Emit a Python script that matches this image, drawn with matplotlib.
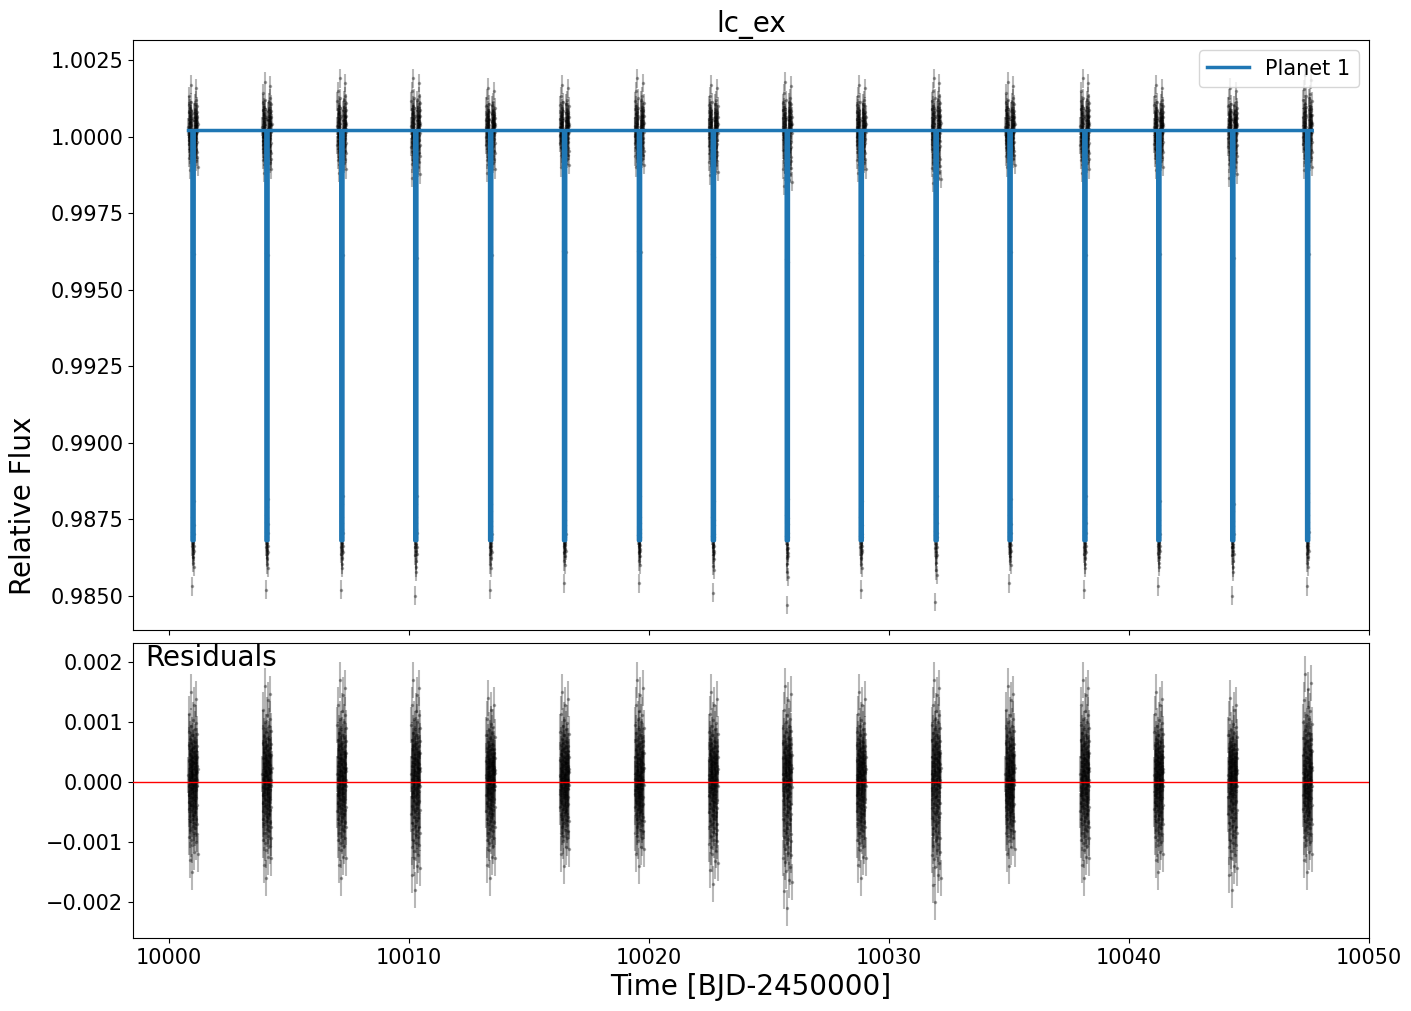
import numpy as np
import matplotlib
matplotlib.use("Agg")
import matplotlib.pyplot as plt

# transit mid-times [BJD-2450000]
transit_times = [10001.00, 10004.08, 10007.20, 10010.28, 10013.40, 10016.48,
                 10019.60, 10022.68, 10025.76, 10028.84, 10031.96, 10035.04,
                 10038.16, 10041.24, 10044.32, 10047.44]

# highest / lowest residual point per transit (approx, from the residual panel)
resid_top = [0.0015, 0.0016, 0.0017, 0.0017, 0.0014, 0.0015, 0.0017, 0.0015,
             0.0016, 0.0015, 0.0017, 0.0016, 0.0017, 0.0015, 0.0014, 0.0018]
resid_bot = [-0.0015, -0.0016, -0.0016, -0.0018, -0.0016, -0.0014, -0.0014, -0.0017,
             -0.0021, -0.0016, -0.0020, -0.0014, -0.0016, -0.0015, -0.0018, -0.0015]

# model shape of one transit (offset from mid-time, flux)
model_dt = [-0.19, -0.047, -0.043, 0.043, 0.047, 0.19]
model_flux = [1.0002, 1.0002, 0.9868, 0.9868, 1.0002, 1.0002]

# typical residual scatter inside one observing window (x 1e-3)
resid_sample = [0.12, -0.45, 0.83, -0.21, 0.37, -0.92, 0.05, 0.61, -0.33, -0.07,
                1.12, -0.58, 0.24, -1.31, 0.46, -0.15, 0.71, -0.66, 0.02, 0.29,
                -0.81, 0.53, -0.38, 1.48, -0.11, 0.18, -0.97, 0.64, -0.26, 0.09,
                -0.49, 0.92, -0.03, 0.35, -1.07, 0.41, -0.62, 0.15, 0.77, -0.19,
                -1.52, 0.27, 0.56, -0.41, 0.01, -0.74, 1.03, -0.09, 0.33, -0.55,
                0.68, -0.29, 0.11, -0.86, 0.49, -0.17, 1.27, -0.36, 0.22, -0.69,
                0.04, 0.58, -1.18, 0.31, -0.23, 0.87, -0.51, 0.14, -0.04, 0.44,
                -0.78, 0.66, -0.31, 0.07, -1.02, 0.38, 0.97, -0.44, 0.19, -0.13,
                0.52, -0.63, 1.36, -0.27, 0.26, -0.88, 0.03, 0.59, -0.39, 0.16,
                -0.71, 0.79, -0.06, 0.42, -1.21, 0.21]
flux_err = 0.0003

# build the light curve
samp = np.array(resid_sample) * 1e-3
dt = np.linspace(model_dt[0], model_dt[-1], len(samp))
t_all, f_all, r_all = [], [], []
mt_all, mf_all = [], []
for i, tc in enumerate(transit_times):
    r = np.where(samp > 0, samp / samp.max() * resid_top[i], samp / samp.min() * resid_bot[i])
    m = np.interp(dt, model_dt, model_flux)
    t_all.append(tc + dt)
    r_all.append(r)
    f_all.append(m + r)
    mt_all.append(tc + np.array(model_dt))
    mf_all.append(model_flux)
t_all = np.concatenate(t_all)
f_all = np.concatenate(f_all)
r_all = np.concatenate(r_all)
mt_all = np.concatenate(mt_all)
mf_all = np.concatenate(mf_all)

fig = plt.figure(figsize=(14.11, 10.11), dpi=100)
ax1 = fig.add_axes([0.0943, 0.3769, 0.876, 0.5836])
ax2 = fig.add_axes([0.0943, 0.0722, 0.876, 0.2918], sharex=ax1)

ax1.errorbar(t_all, f_all, yerr=flux_err, fmt='.', color='k', alpha=0.28, ms=3, zorder=1)
ax1.plot(mt_all, mf_all, color='#1f77b4', lw=2.5, label='Planet 1', zorder=3)
ax1.set_title('lc_ex', fontsize=20)
ax1.legend(loc='upper right', fontsize=15)
ax1.tick_params(labelsize=15, labelbottom=False)
ax1.set_yticks([0.9850, 0.9875, 0.9900, 0.9925, 0.9950, 0.9975, 1.0000, 1.0025])
ax1.set_yticklabels(['0.9850', '0.9875', '0.9900', '0.9925', '0.9950', '0.9975', '1.0000', '1.0025'])
ax1.set_ylim(0.98388, 1.00316)

ax2.errorbar(t_all, r_all, yerr=flux_err, fmt='.', color='k', alpha=0.28, ms=3, zorder=1)
ax2.axhline(0, color='r', lw=1, zorder=3)
ax2.text(0.01, 0.995, 'Residuals', transform=ax2.transAxes, fontsize=20, va='top', ha='left')
ax2.set_xlabel('Time [BJD-2450000]', fontsize=20)
ax2.tick_params(labelsize=15)
ax2.set_ylim(-0.0026, 0.00232)
ax2.set_xlim(9998.5, 10050.0)

fig.text(0.016, 0.5, 'Relative Flux', rotation=90, fontsize=20, va='center', ha='center')

fig.savefig('out.png', dpi=100)
